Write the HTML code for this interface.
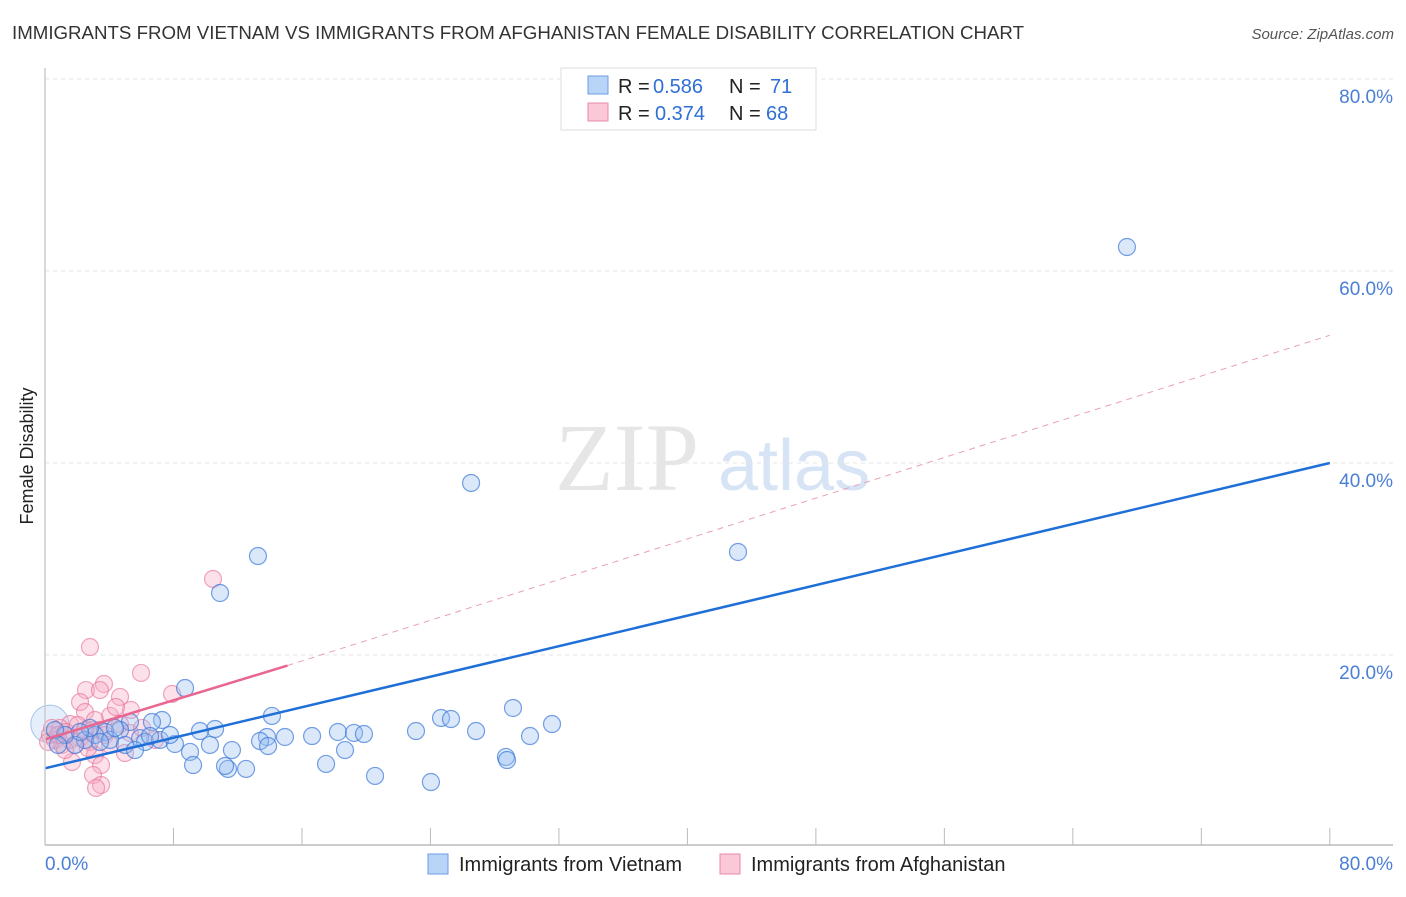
<!DOCTYPE html>
<html><head><meta charset="utf-8"><style>
body{margin:0;background:#fff;font-family:"Liberation Sans",sans-serif}
</style></head><body>
<svg width="1406" height="892" xmlns="http://www.w3.org/2000/svg">
<text x="12" y="39" font-size="18.7" fill="#333">IMMIGRANTS FROM VIETNAM VS IMMIGRANTS FROM AFGHANISTAN FEMALE DISABILITY CORRELATION CHART</text>
<text x="1394" y="39" font-size="15" fill="#555" font-style="italic" text-anchor="end">Source: ZipAtlas.com</text>
<text x="33" y="456" font-size="18" fill="#222" text-anchor="middle" transform="rotate(-90 33 456)">Female Disability</text>
<text x="555" y="490" font-size="96" fill="#e6e6e6" font-family="Liberation Serif">ZIP</text>
<text x="718" y="490" font-size="72" fill="#d6e4f5">atlas</text>
<g id="grid"></g>
<g id="marks"></g>
<line x1="45" y1="68" x2="45" y2="845" stroke="#ccc" stroke-width="1.5"/>
<line x1="45" y1="845" x2="1393" y2="845" stroke="#bbb" stroke-width="1.5"/>
<text x="45" y="870" font-size="19" fill="#4a7fd6">0.0%</text>
<text x="1393" y="870" font-size="19" fill="#4a7fd6" text-anchor="end">80.0%</text>
<g>
<rect x="561" y="68" width="255" height="62" fill="#fff" stroke="#ddd"/>
<rect x="588" y="76" width="20" height="18" fill="#b8d4f7" stroke="#6b9be0"/>
<rect x="588" y="103" width="20" height="18" fill="#fbc8d8" stroke="#e88aa8"/>
<text x="618" y="93" font-size="20" fill="#222">R =</text>
<text x="653" y="93" font-size="20" fill="#2f6fd6">0.586</text>
<text x="729" y="93" font-size="20" fill="#222">N =</text>
<text x="770" y="93" font-size="20" fill="#2f6fd6">71</text>
<text x="618" y="120" font-size="20" fill="#222">R =</text>
<text x="655" y="120" font-size="20" fill="#2f6fd6">0.374</text>
<text x="729" y="120" font-size="20" fill="#222">N =</text>
<text x="766" y="120" font-size="20" fill="#2f6fd6">68</text>
</g>
<g>
<rect x="428" y="854" width="20" height="20" fill="#b8d4f7" stroke="#6b9be0"/>
<text x="459" y="871" font-size="20" fill="#222">Immigrants from Vietnam</text>
<rect x="720" y="854" width="20" height="20" fill="#fbc8d8" stroke="#e88aa8"/>
<text x="751" y="871" font-size="20" fill="#222">Immigrants from Afghanistan</text>
</g>
</svg>
<script>
const yTicks=[20,40,60,80];
const xTicks=[0,8,16,24,32,40,48,56,64,72,80];
const bluePx=[[1127,247],[471,483],[738,552],[258,556],[220,593],[185,688],[513,708],[272,716],[441,718],[451,719],[552,724],[162,720],[152,722],[476,731],[416,731],[338,732],[354,733],[364,734],[312,736],[285,737],[267,737],[215,729],[200,731],[530,736],[260,741],[232,750],[345,750],[210,745],[175,744],[190,752],[268,746],[506,757],[507,760],[326,764],[193,765],[246,769],[228,769],[225,766],[375,776],[431,782],[130,722],[120,730],[105,732],[95,735],[110,740],[140,738],[145,742],[160,740],[170,735],[85,740],[75,745],[65,735],[55,730],[58,745],[100,742],[125,745],[135,750],[115,728],[90,728],[80,732],[150,736]];
const pinkPx=[[90,647],[213,579],[141,673],[172,694],[104,684],[86,690],[100,690],[120,697],[80,702],[131,710],[85,712],[110,716],[95,720],[70,724],[60,728],[92,730],[120,724],[100,730],[80,738],[50,735],[55,740],[62,745],[70,740],[75,745],[90,742],[105,735],[130,733],[155,740],[125,753],[95,755],[72,762],[101,765],[93,775],[101,785],[96,788],[65,750],[58,735],[48,742],[52,728],[66,732],[78,725],[85,730],[110,745],[142,728],[88,748],[116,707]];
const blueX=bluePx.map(p=>+((p[0]-45)/16.06).toFixed(2));
const blueY=bluePx.map(p=>+((847-p[1])/9.6).toFixed(2));
const pinkX=pinkPx.map(p=>+((p[0]-45)/16.06).toFixed(2));
const pinkY=pinkPx.map(p=>+((847-p[1])/9.6).toFixed(2));
const blueTrend=[[0,8.2],[80,40]];
const pinkTrend=[[0,11.2],[15.1,18.9],[80,53.3]];
const sx=v=>45+v*16.06, sy=v=>847-v*9.6;
const NS="http://www.w3.org/2000/svg";
function mk(t,a,parent){const e=document.createElementNS(NS,t);for(const k in a)e.setAttribute(k,a[k]);parent.appendChild(e);return e;}
const grid=document.getElementById('grid'), marks=document.getElementById('marks');
yTicks.forEach(v=>{
 const l=mk('line',{x1:45,x2:1393,y1:sy(v),y2:sy(v),stroke:'#e6e6e6','stroke-dasharray':'4,4'},grid);
 
 
 const t=mk('text',{x:1393,y:sy(v)+24,'font-size':19,fill:'#4a7fd6','text-anchor':'end'},grid);
 t.textContent=v.toFixed(1)+'%';
 
 
});
xTicks.forEach(v=>{
 const l=mk('line',{x1:sx(v),x2:sx(v),y1:828,y2:845,stroke:'#bbb'},grid);
 
 
});
const big=mk('circle',{cx:sx(0.3),cy:sy(12.8),r:19,fill:'rgba(150,190,240,0.25)',stroke:'rgba(70,130,220,0.45)'},marks);


for(let i=0;i<pinkX.length;i++){
 const c=mk('circle',{cx:sx(pinkX[i]),cy:sy(pinkY[i]),r:8.5,fill:'rgba(247,170,195,0.35)',stroke:'rgba(230,110,150,0.6)','stroke-width':1.2},marks);
 
 
}
for(let i=0;i<blueX.length;i++){
 const c=mk('circle',{cx:sx(blueX[i]),cy:sy(blueY[i]),r:8.5,fill:'rgba(150,190,240,0.35)',stroke:'rgba(60,120,215,0.7)','stroke-width':1.2},marks);
 
 
}
let b=mk('line',{x1:sx(blueTrend[0][0]),y1:sy(blueTrend[0][1]),x2:sx(blueTrend[1][0]),y2:sy(blueTrend[1][1]),stroke:'#1f6fd8','stroke-width':2.5},marks);


let p1=mk('line',{x1:sx(pinkTrend[0][0]),y1:sy(pinkTrend[0][1]),x2:sx(pinkTrend[1][0]),y2:sy(pinkTrend[1][1]),stroke:'#e8668f','stroke-width':2.5},marks);


let p2=mk('line',{x1:sx(pinkTrend[1][0]),y1:sy(pinkTrend[1][1]),x2:sx(pinkTrend[2][0]),y2:sy(pinkTrend[2][1]),stroke:'#e8a0b5','stroke-width':1,'stroke-dasharray':'6,5'},marks);


</script>
</body></html>
